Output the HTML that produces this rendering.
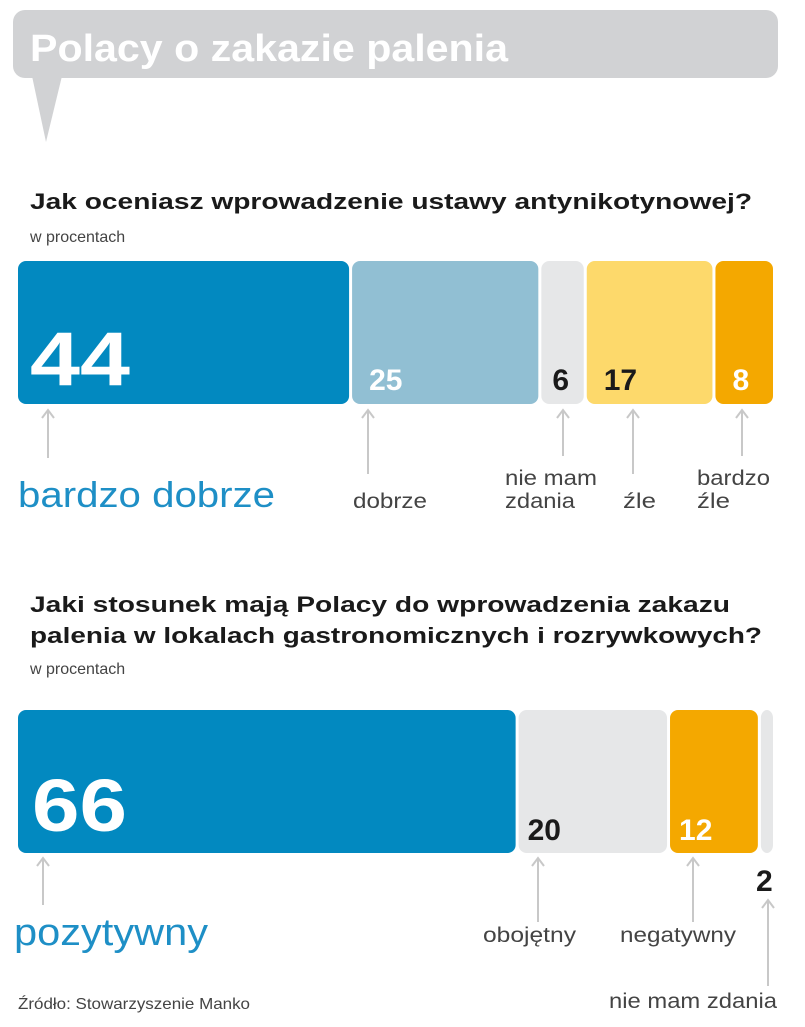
<!DOCTYPE html>
<html><head><meta charset="utf-8">
<style>
body{margin:0;background:#fff;width:805px;height:1027px;overflow:hidden;font-family:"Liberation Sans",sans-serif;}
svg{display:block}
</style></head><body>
<svg id="c" width="805" height="1027">
  <g>
    <rect x="13" y="10" width="765" height="68" rx="12" fill="#d1d2d4"/>
    <polygon points="32,76 62,76 46,142" fill="#d1d2d4"/>
    <text x="30" y="61" font-size="38" font-weight="bold" fill="#fff" textLength="478" lengthAdjust="spacingAndGlyphs">Polacy o zakazie palenia</text>
  </g>
  <text x="30" y="209" font-size="22" font-weight="bold" fill="#1a1a1a" textLength="722" lengthAdjust="spacingAndGlyphs">Jak oceniasz wprowadzenie ustawy antynikotynowej?</text>
  <text x="30" y="242" font-size="16" fill="#444">w procentach</text>
  <text x="30" y="612" font-size="22" font-weight="bold" fill="#1a1a1a" textLength="700" lengthAdjust="spacingAndGlyphs">Jaki stosunek mają Polacy do wprowadzenia zakazu</text>
  <text x="30" y="643" font-size="22" font-weight="bold" fill="#1a1a1a" textLength="732" lengthAdjust="spacingAndGlyphs">palenia w lokalach gastronomicznych i rozrywkowych?</text>
  <text x="30" y="674" font-size="16" fill="#444">w procentach</text>
  <text x="18" y="1009" font-size="16" fill="#444" textLength="232" lengthAdjust="spacingAndGlyphs">Źródło: Stowarzyszenie Manko</text>
  <g id="g1"></g>
  <g id="g2"></g>
</svg>
<script>
const cat1=["bardzo dobrze","dobrze","nie mam zdania","źle","bardzo źle"];
const val1=[44,25,6,17,8];
const cat2=["pozytywny","obojętny","negatywny","nie mam zdania"];
const val2=[66,20,12,2];
const NS="http://www.w3.org/2000/svg";
function mk(tag,attrs,parent,txt){const e=document.createElementNS(NS,tag);for(const k in attrs)e.setAttribute(k,attrs[k]);if(txt!==undefined)e.textContent=txt;parent.appendChild(e);return e;}
const X0=18,W=757;
function xs(vals){const tot=vals.reduce((a,b)=>a+b,0);let acc=0;return vals.map(v=>{const s=X0+acc/tot*W;acc+=v;return [s,X0+acc/tot*W];});}
function arrow(g,x,y1,y2){
  const l=mk('path',{d:`M${x},${y2} L${x},${y1} M${x-6},${y1+8} L${x},${y1} L${x+6},${y1+8}`,stroke:'#c8c8c8','stroke-width':2,fill:'none'},g);
  
  
}
function label(g,x,y,fs,col,s,tl){
  const a={x:x,y:y,'font-size':fs,fill:col};
  if(tl){a.textLength=tl;a.lengthAdjust='spacingAndGlyphs';}
  const t=mk('text',a,g,s);
  
  
}
// chart 1
(function(){
  const g=document.getElementById('g1');
  const cols=["#0289c0","#91bfd3","#e6e7e8","#fdd96b","#f4a800"];
  const tcol=["#fff","#fff","#1a1a1a","#1a1a1a","#fff"];
  const p=xs(val1);const y=261,h=143;
  p.forEach((s,i)=>{
    const r=mk('rect',{x:s[0]+(i?1:0),y:y,width:s[1]-s[0]-(i?3:2),height:h,rx:8,fill:cols[i]},g);
    
    
    const big=i===0;
    const a={x:s[0]+(big?12:(i===2?12:18)),y:big?385:390,'font-size':big?76:30,'font-weight':'bold',fill:tcol[i]};
    if(big){a.textLength=100;a.lengthAdjust='spacingAndGlyphs';}
    const t=mk('text',a,g,String(val1[i]));
    
    
  });
  const ax=[48,368,563,633,742];
  arrow(g,ax[0],410,458);arrow(g,ax[1],410,474);arrow(g,ax[2],410,456);arrow(g,ax[3],410,474);arrow(g,ax[4],410,456);
  label(g,18,507,36,"#1e8fc6","bardzo dobrze",257);
  label(g,353,508,21,"#444","dobrze",74);
  label(g,505,485,21,"#444","nie mam",92);
  label(g,505,508,21,"#444","zdania",70);
  label(g,623,508,21,"#444","źle",33);
  label(g,697,485,21,"#444","bardzo",73);
  label(g,697,508,21,"#444","źle",33);
})();
// chart 2
(function(){
  const g=document.getElementById('g2');
  const cols=["#0289c0","#e6e7e8","#f4a800","#e6e7e8"];
  const tcol=["#fff","#1a1a1a","#fff","#1a1a1a"];
  const p=xs(val2);const y=710,h=143;
  p.forEach((s,i)=>{
    const r=mk('rect',{x:s[0]+(i?1:0),y:y,width:Math.max(4,s[1]-s[0]-(i?3:2)),height:h,rx:8,fill:cols[i]},g);
    
    
    let tx=s[0]+(i===0?14:10),ty=i===0?831:840,fs=i===0?74:30;
    if(i===3){tx=756;ty=891;}
    const a={x:tx,y:ty,'font-size':fs,'font-weight':'bold',fill:tcol[i]};
    if(i===0){a.textLength=95;a.lengthAdjust='spacingAndGlyphs';}
    const t=mk('text',a,g,String(val2[i]));
    
    
  });
  arrow(g,43,858,905);arrow(g,538,858,922);arrow(g,693,858,922);arrow(g,768,900,986);
  label(g,14,945,38,"#1e8fc6","pozytywny",194);
  label(g,483,942,21,"#444","obojętny",93);
  label(g,620,942,21,"#444","negatywny",116);
  label(g,609,1008,21,"#444","nie mam zdania",168);
})();
</script>
</body></html>
